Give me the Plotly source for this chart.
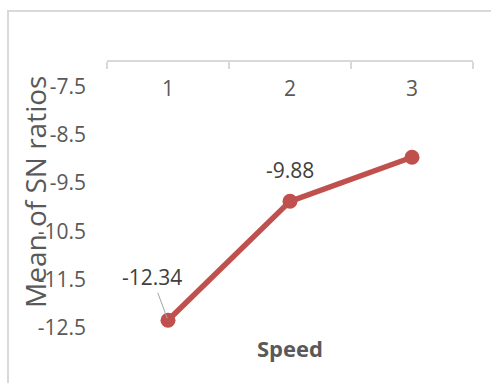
import plotly.graph_objects as go

# Data
speed_levels = [1, 2, 3]
speed_labels = ["1", "2", "3"]
sn_means = [-12.34, -9.88, -8.97]
label_values = [-12.34, -9.88]          # data labels shown for first two points
y_ticks = [-12.5, -11.5, -10.5, -9.5, -8.5, -7.5]
y_tick_labels = ["-12.5", "-11.5", "-10.5", "-9.5", "-8.5", "-7.5"]
x_boundaries = [0.5, 1.5, 2.5, 3.5]

W, H = 491, 383
L, R, T, B = 107, 18, 62, 55
pw, ph = W - L - R, H - T - B

def px_x(px):
    return (px - L) / pw

def px_y(py):
    return (H - B - py) / ph

grey_txt = "#595959"
line_col = "#C0504D"
axis_col = "#D9D9D9"
FONT = "Open Sans"

fig = go.Figure()
fig.add_trace(go.Scatter(
    x=speed_levels, y=sn_means, mode="lines+markers",
    line=dict(color=line_col, width=5.5),
    marker=dict(color=line_col, size=15),
    hoverinfo="skip", showlegend=False,
))

# data labels
fig.add_annotation(x=speed_levels[0], y=label_values[0], text=f"{label_values[0]:.2f}",
                   showarrow=True, arrowhead=0, arrowwidth=1, arrowcolor="#A6A6A6",
                   ax=-16, ay=-43, standoff=2,
                   font=dict(family=FONT, size=21, color="#404040"))
fig.add_annotation(x=speed_levels[1], y=label_values[1], text=f"{label_values[1]:.2f}",
                   showarrow=False, yshift=31, xanchor="center", yanchor="middle",
                   font=dict(family=FONT, size=21, color="#404040"))

# axis titles
fig.add_annotation(xref="paper", yref="paper", x=px_x(35), y=px_y(192),
                   xanchor="center", yanchor="middle",
                   text="Mean of SN ratios", textangle=-90, showarrow=False,
                   font=dict(family=FONT, size=28, color=grey_txt))
fig.add_annotation(xref="paper", yref="paper", x=px_x(290), y=px_y(348),
                   xanchor="center", yanchor="middle",
                   text="<b>Speed</b>", showarrow=False,
                   font=dict(family=FONT, size=22, color=grey_txt))

# outer chart border
fig.add_shape(type="rect", xref="paper", yref="paper",
              x0=px_x(8), x1=px_x(495), y0=px_y(390), y1=px_y(11),
              line=dict(color=axis_col, width=2), fillcolor="rgba(0,0,0,0)", layer="below")

fig.update_layout(
    width=W, height=H,
    margin=dict(l=L, r=R, t=T, b=B),
    paper_bgcolor="white", plot_bgcolor="white",
    font=dict(family=FONT, color=grey_txt, size=21),
    xaxis=dict(
        range=[0.5, 3.5], side="top", tickvals=speed_levels, showticklabels=False,
        ticks="",
        showline=True, linecolor=axis_col, linewidth=2, showgrid=False, zeroline=False,
        minor=dict(tickvals=x_boundaries, ticks="inside", ticklen=7,
                   tickcolor=axis_col, tickwidth=2, showgrid=False),
        fixedrange=True,
    ),
    xaxis2=dict(
        range=[0.5, 3.5], overlaying="x", side="top", anchor="free",
        position=px_y(100),
        tickvals=speed_levels, ticktext=speed_labels, ticks="",
        showline=False, showgrid=False, zeroline=False,
        tickfont=dict(family=FONT, size=21, color=grey_txt),
        fixedrange=True,
    ),
    yaxis=dict(
        range=[-12.5, -7], tickvals=y_ticks, ticktext=y_tick_labels,
        ticks="", showline=False, showgrid=False, zeroline=False,
        ticklabelstandoff=20, ticklabeloverflow="allow",
        tickfont=dict(family=FONT, size=21, color=grey_txt),
        fixedrange=True,
    ),
)

# invisible companion trace so the label axis is drawn
fig.add_trace(go.Scatter(x=speed_levels, y=sn_means, xaxis="x2", mode="none",
                         hoverinfo="skip", showlegend=False))

fig.write_html("out.html")
